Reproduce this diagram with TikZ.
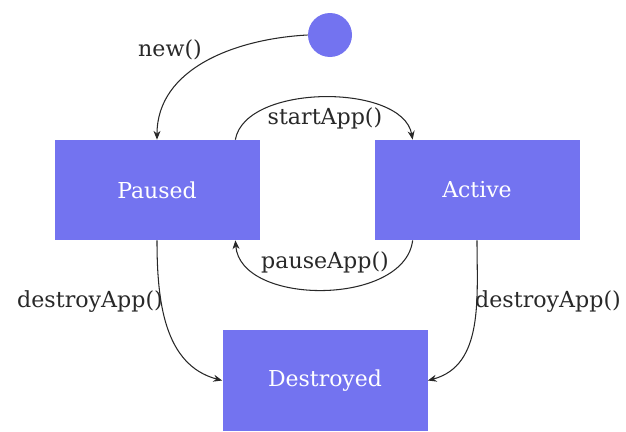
\documentclass[tikz,border=0pt]{standalone}
\usepackage{xcolor}
\usepackage{fontspec}
\setmainfont{DejaVu Serif}
\usepackage{tikz}
\usetikzlibrary{shapes,arrows.meta,calc}

\definecolor{stateblue}{RGB}{115,115,240}
\definecolor{linegray}{RGB}{40,40,40}

\tikzset{
	state/.style={draw=none, fill=stateblue, text=white, minimum width=4.1cm, minimum height=2cm, inner sep=0pt, font=\fontsize{12.5}{14}\selectfont},
	trans/.style={draw=linegray, semithick, -{Stealth[length=5pt,width=4pt]}},
	lbl/.style={text=linegray, inner sep=1pt, font=\fontsize{12.6}{14}\selectfont}
}

\begin{document}
\begin{tikzpicture}
					\useasboundingbox (0,0) rectangle (12.52,8.62);
					\node[circle, fill=stateblue, minimum size=0.88cm, inner sep=0pt] (init) at (6.6,7.92) {};
					\node[state] (paused) at (3.14,4.82) {Paused};
					\node[state] (active) at (9.54,4.82) {Active};
					\node[state, minimum height=2.02cm] (destroyed) at (6.5,1.01) {Destroyed};
					\node[lbl] (newlbl) at (3.4,7.62) {new()};
					\node[lbl] (startlbl) at (6.5,6.26) {startApp()};
					\node[lbl] (pauselbl) at (6.5,3.38) {pauseApp()};
					\node[lbl] (destroylbl1) at (1.8,2.58) {destroyApp()};
					\node[lbl] (destroylbl2) at (10.96,2.58) {destroyApp()};
					\draw[trans] (init.west) to[out=183,in=90] (paused.north);
					\draw[trans] ([xshift=-0.49cm]paused.north east) .. controls +(0.2,1.13) and +(-0.2,1.13) .. ([xshift=0.77cm]active.north west);
					\draw[trans] ([xshift=0.77cm]active.south west) .. controls +(-0.16,-1.32) and +(0.1,-1.32) .. ([xshift=-0.49cm]paused.south east);
					\draw[trans] (paused.south) to[out=-90,in=165] (destroyed.west);
					\draw[trans] (active.south) to[out=-90,in=15] (destroyed.east);
				\end{tikzpicture}
\end{document}
